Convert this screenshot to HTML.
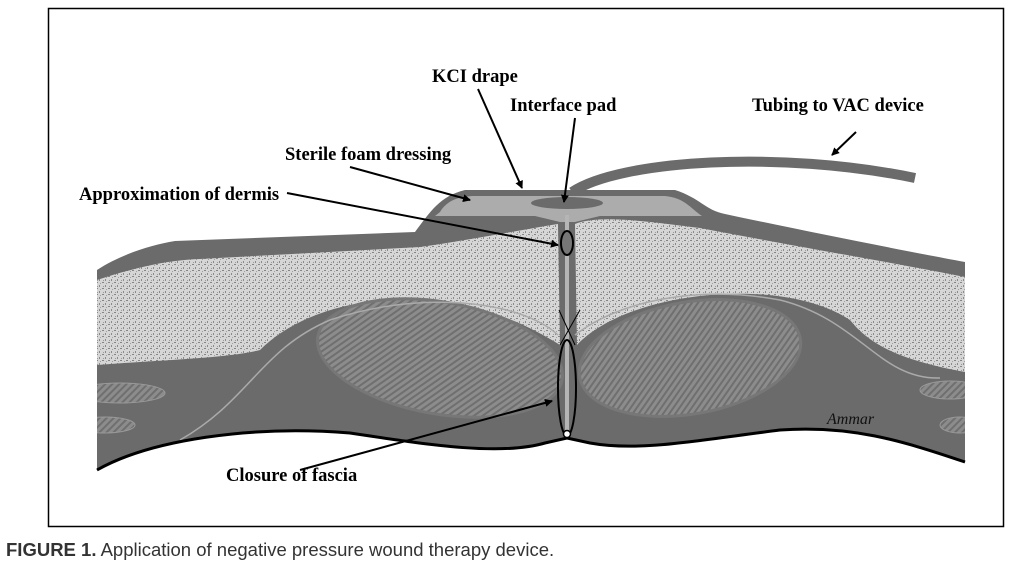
<!DOCTYPE html>
<html><head><meta charset="utf-8"><style>
html,body{margin:0;padding:0;background:#fff;width:1024px;height:573px;overflow:hidden}
svg{display:block}
</style></head><body>
<svg width="1024" height="573" viewBox="0 0 1024 573" xmlns="http://www.w3.org/2000/svg">
<defs>
<pattern id="st" width="6" height="6" patternUnits="userSpaceOnUse">
<rect width="6" height="6" fill="#d6d6d6"/><rect x="0" y="0" width="2" height="1" fill="#858585"/><rect x="3" y="3" width="1" height="2" fill="#8a8a8a"/><rect x="4" y="1" width="1" height="1" fill="#a0a0a0"/><rect x="1" y="4" width="1" height="1" fill="#9a9a9a"/>
</pattern>
<pattern id="hs" width="5" height="5" patternUnits="userSpaceOnUse" patternTransform="rotate(45)">
<rect width="5" height="5" fill="#8c8c8c"/><rect width="2" height="5" fill="#6f6f6f"/>
</pattern>
<marker id="ar" markerWidth="8" markerHeight="8" refX="7" refY="4" orient="auto" markerUnits="userSpaceOnUse">
<path d="M0,0 L8,4 L0,8 Z" fill="#000"/></marker>
<clipPath id="bc"><path d="M97,270 C120,255 150,245 175,241 L415,232 C430,212 440,196 465,190 L675,190 C700,198 705,210 725,214 C800,230 900,250 965,262 L965,462 C900,440 850,425 780,430 C700,440 640,452 590,443 L567,438 L545,443 C500,456 430,445 350,433 C250,425 150,440 97,470 Z"/></clipPath>
</defs>
<rect x="48.5" y="8.5" width="955" height="518" fill="#fff" stroke="#000" stroke-width="1.5"/>
<path d="M572,192 C620,160 780,150 915,178" fill="none" stroke="#6b6b6b" stroke-width="10"/>
<path d="M97,270 C120,255 150,245 175,241 L415,232 C430,212 440,196 465,190 L675,190 C700,198 705,210 725,214 C800,230 900,250 965,262 L965,462 C900,440 850,425 780,430 C700,440 640,452 590,443 L567,438 L545,443 C500,456 430,445 350,433 C250,425 150,440 97,470 Z" fill="#6b6b6b"/>
<g clip-path="url(#bc)">
<path d="M440,212 C447,200 460,196 475,196 L665,196 C685,198 690,208 702,216 L600,216 L575,222 L560,222 L535,216 L435,216 Z" fill="#acacac"/>
<ellipse cx="567" cy="203" rx="36" ry="6" fill="#6b6b6b"/>
<path d="M97,280 C140,266 170,260 200,259 L420,247 C470,240 520,230 558,224 L560,345 C520,320 470,300 410,298 C340,300 290,320 260,350 C230,358 160,360 97,365 Z" fill="url(#st)"/>
<path d="M575,224 C600,214 650,222 700,228 C800,247 900,264 965,277 L965,372 C900,360 870,345 850,320 C820,300 770,290 710,295 C650,300 600,320 577,345 Z" fill="url(#st)"/>
<ellipse cx="440" cy="358" rx="124" ry="56" transform="rotate(10 440 358)" fill="url(#hs)" stroke="#777" stroke-width="3"/>
<ellipse cx="690" cy="358" rx="112" ry="56" transform="rotate(-10 690 358)" fill="url(#hs)" stroke="#777" stroke-width="3"/>
<path d="M180,440 C250,400 260,350 330,320 C420,290 520,300 558,335" fill="none" stroke="#aaa" stroke-width="1.5"/>
<path d="M575,335 C620,300 700,285 780,300 C860,320 880,380 940,378" fill="none" stroke="#aaa" stroke-width="1.5"/>
<ellipse cx="120" cy="393" rx="45" ry="10" fill="url(#hs)" stroke="#999"/>
<ellipse cx="105" cy="425" rx="30" ry="8" fill="url(#hs)" stroke="#999"/>
<ellipse cx="950" cy="390" rx="30" ry="9" fill="url(#hs)" stroke="#999"/>
<ellipse cx="960" cy="425" rx="20" ry="8" fill="url(#hs)" stroke="#999"/>
</g>
<path d="M97,470 C150,440 250,425 350,433 C430,445 500,456 545,443 L567,438 L590,443 C640,452 700,440 780,430 C850,425 900,440 965,462" fill="none" stroke="#000" stroke-width="3"/>
<line x1="567" y1="215" x2="567" y2="432" stroke="#b5b5b5" stroke-width="4"/>
<ellipse cx="567" cy="243" rx="6" ry="12" fill="#777" stroke="#000" stroke-width="2"/>
<ellipse cx="567" cy="388" rx="9" ry="48" fill="none" stroke="#000" stroke-width="2"/>
<circle cx="567" cy="434" r="3.5" fill="#fff" stroke="#000" stroke-width="1.5"/>
<line x1="559" y1="310" x2="575" y2="345" stroke="#000"/><line x1="580" y1="310" x2="560" y2="345" stroke="#000"/>
<text x="827" y="424" font-family="Liberation Serif,serif" font-style="italic" font-size="16" fill="#111">Ammar</text>
<g font-family="Liberation Serif,serif" font-weight="bold" font-size="18.5" fill="#000">
<text x="432" y="82">KCI drape</text>
<text x="510" y="111">Interface pad</text>
<text x="752" y="111">Tubing to  VAC device</text>
<text x="285" y="160">Sterile foam dressing</text>
<text x="79" y="200">Approximation of dermis</text>
<text x="226" y="481">Closure of fascia</text>
</g>
<g stroke="#000" stroke-width="2" fill="none" marker-end="url(#ar)">
<line x1="478" y1="89" x2="522" y2="188"/>
<line x1="575" y1="118" x2="564" y2="202"/>
<line x1="856" y1="132" x2="832" y2="155"/>
<line x1="350" y1="167" x2="470" y2="200"/>
<line x1="287" y1="193" x2="558" y2="245"/>
<line x1="300" y1="470" x2="552" y2="401"/>
</g>
<text x="6" y="556" font-family="Liberation Sans,sans-serif" font-size="18.5" fill="#333"><tspan font-weight="bold">FIGURE 1.</tspan> Application of negative pressure wound therapy device.</text>
</svg>
</body></html>
